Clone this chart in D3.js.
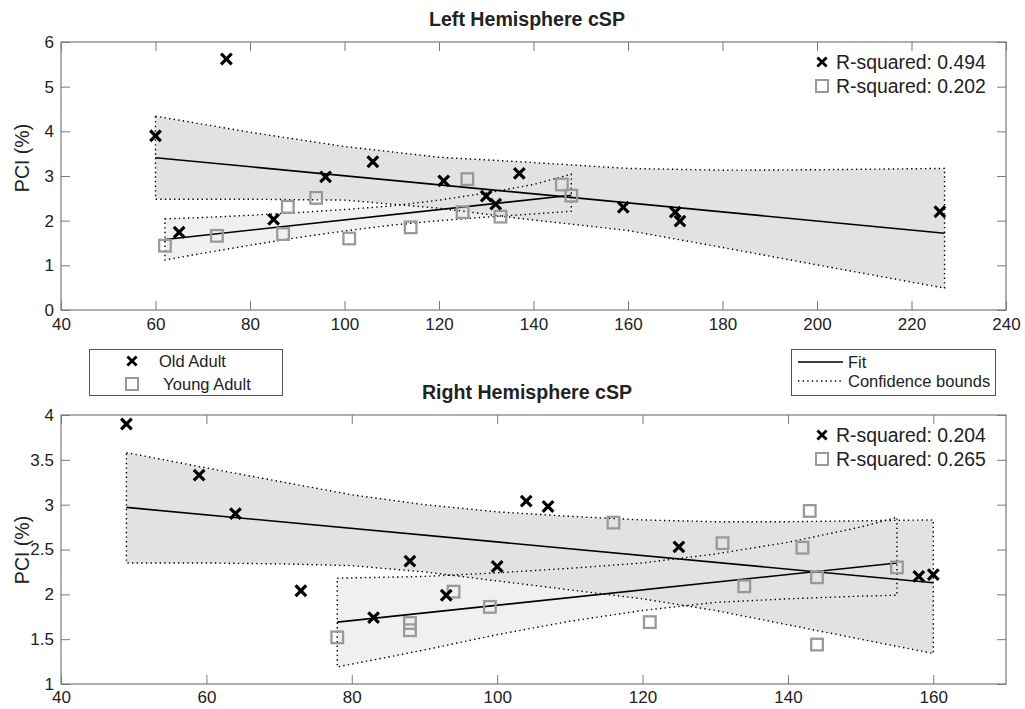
<!DOCTYPE html>
<html>
<head>
<meta charset="utf-8">
<script src="https://cdn.jsdelivr.net/npm/d3@7"></script>
<style>
  body { margin: 0; background: #fff; }
  svg text { font-family: "Liberation Sans", Arial, sans-serif; fill: #222; }
</style>
</head>
<body>
<svg id="vis" width="1025" height="709"></svg>
<script>
// ---- data ----
// Left hemisphere
var leftOldX   = [60, 65, 75, 85, 96, 106, 121, 130, 132, 137, 159, 170, 171, 226];
var leftOldY   = [3.90, 1.74, 5.62, 2.03, 2.98, 3.32, 2.89, 2.55, 2.37, 3.06, 2.30, 2.19, 1.99, 2.20];
var leftYoungX = [62, 73, 87, 88, 94, 101, 114, 125, 126, 133, 146, 148];
var leftYoungY = [1.44, 1.66, 1.70, 2.31, 2.51, 1.60, 1.85, 2.19, 2.93, 2.09, 2.81, 2.56];

var leftOldFitX   = [60, 227];
var leftOldFitY   = [3.41, 1.72];
var leftYoungFitX = [62, 148];
var leftYoungFitY = [1.58, 2.57];

var leftOldBandX  = [60, 80, 100, 120, 137, 160, 180, 200, 227];
var leftOldUpper  = [4.34, 3.98, 3.66, 3.42, 3.32, 3.17, 3.13, 3.14, 3.17];
var leftOldLower  = [2.48, 2.48, 2.46, 2.28, 2.05, 1.78, 1.40, 1.01, 0.49];
var leftYoungBandX = [62, 70, 80, 90, 100, 110, 120, 130, 140, 148];
var leftYoungUpper = [2.04, 2.07, 2.12, 2.18, 2.25, 2.33, 2.46, 2.62, 2.81, 3.04];
var leftYoungLower = [1.12, 1.27, 1.45, 1.62, 1.77, 1.90, 2.00, 2.08, 2.15, 2.21];

// Right hemisphere
var rightOldX   = [49, 59, 64, 73, 83, 88, 93, 100, 104, 107, 125, 158, 160];
var rightOldY   = [3.90, 3.33, 2.90, 2.04, 1.74, 2.37, 1.99, 2.31, 3.04, 2.98, 2.53, 2.20, 2.22];
var rightYoungX = [78, 88, 88, 94, 99, 116, 121, 131, 134, 142, 143, 144, 144, 155];
var rightYoungY = [1.52, 1.68, 1.60, 2.03, 1.86, 2.80, 1.69, 2.57, 2.09, 2.52, 2.93, 2.19, 1.44, 2.30];

var rightOldFitX   = [49, 160];
var rightOldFitY   = [2.97, 2.13];
var rightYoungFitX = [78, 155];
var rightYoungFitY = [1.69, 2.35];

var rightOldBandX  = [49, 60, 70, 80, 90, 100, 110, 120, 130, 140, 150, 160];
var rightOldUpper  = [3.58, 3.41, 3.26, 3.11, 3.00, 2.92, 2.87, 2.83, 2.81, 2.81, 2.82, 2.83];
var rightOldLower  = [2.35, 2.35, 2.34, 2.32, 2.25, 2.15, 2.05, 1.95, 1.82, 1.66, 1.50, 1.34];
var rightYoungBandX = [78, 90, 100, 110, 120, 130, 140, 150, 155];
var rightYoungUpper = [2.18, 2.20, 2.24, 2.29, 2.35, 2.45, 2.58, 2.75, 2.86];
var rightYoungLower = [1.19, 1.38, 1.55, 1.70, 1.82, 1.91, 1.95, 1.98, 1.99];

// axes / ticks
var leftXTicks  = [40, 60, 80, 100, 120, 140, 160, 180, 200, 220, 240];
var leftYTicks  = [0, 1, 2, 3, 4, 5, 6];
var rightXTicks = [40, 60, 80, 100, 120, 140, 160];
var rightYTicks = [1, 1.5, 2, 2.5, 3, 3.5, 4];

var leftRsq  = ["R-squared: 0.494", "R-squared: 0.202"];
var rightRsq = ["R-squared: 0.204", "R-squared: 0.265"];
var groups = ["Old Adult", " Young Adult"];
var lineKeys = ["Fit", "Confidence bounds"];

var svg = d3.select("#vis");
var axisGray = "#7a7a7a";

function zip(xs, ys) { return xs.map(function(x, i) { return {x: x, y: ys[i]}; }); }

function crossMark(g, size, sw) {
  g.append("path")
    .attr("d", "M" + (-size) + "," + (-size) + "L" + size + "," + size + "M" + size + "," + (-size) + "L" + (-size) + "," + size)
    .attr("stroke", "#000").attr("stroke-width", sw).attr("fill", "none");
}
function squareMark(g, size, sw) {
  g.append("rect").attr("x", -size).attr("y", -size).attr("width", 2 * size).attr("height", 2 * size)
    .attr("fill", "none").attr("stroke", "#999").attr("stroke-width", sw);
}

function drawPanel(p) {
  var x = d3.scaleLinear().domain(p.xDomain).range([61, 1006]);
  var y = d3.scaleLinear().domain(p.yDomain).range([p.bottom, p.top]);
  var g = svg.append("g");

  // bands: young (light) first, old (darker) on top
  var poly = d3.line().x(function(d) { return x(d.x); }).y(function(d) { return y(d.y); }).curve(d3.curveLinearClosed);
  function bandPts(bx, up, lo) {
    return zip(bx, up).concat(zip(bx, lo).reverse());
  }
  var youngPts = bandPts(p.youngBandX, p.youngUpper, p.youngLower);
  var oldPts = bandPts(p.oldBandX, p.oldUpper, p.oldLower);
  g.append("path").attr("d", poly(youngPts)).attr("fill", "#f0f0f0");
  g.append("path").attr("d", poly(oldPts)).attr("fill", "#e1e2e2");
  [youngPts, oldPts].forEach(function(pts) {
    g.append("path").attr("d", poly(pts)).attr("fill", "none")
      .attr("stroke", "#000").attr("stroke-width", 1.4).attr("stroke-dasharray", "1.4,3.2");
  });

  // fit lines
  var line = d3.line().x(function(d) { return x(d.x); }).y(function(d) { return y(d.y); });
  g.append("path").attr("d", line(zip(p.oldFitX, p.oldFitY))).attr("stroke", "#000").attr("stroke-width", 1.6).attr("fill", "none");
  g.append("path").attr("d", line(zip(p.youngFitX, p.youngFitY))).attr("stroke", "#000").attr("stroke-width", 1.6).attr("fill", "none");

  // markers
  g.selectAll("g.young").data(zip(p.youngX, p.youngY)).enter().append("g")
    .attr("class", "young")
    .attr("transform", function(d) { return "translate(" + x(d.x) + "," + y(d.y) + ")"; })
    .each(function() { squareMark(d3.select(this), 5.8, 2.3); });
  g.selectAll("g.old").data(zip(p.oldX, p.oldY)).enter().append("g")
    .attr("class", "old")
    .attr("transform", function(d) { return "translate(" + x(d.x) + "," + y(d.y) + ")"; })
    .each(function() { crossMark(d3.select(this), 5.3, 3.2); });

  // axes with inward ticks on all sides
  function styleAxis(a) {
    a.select(".domain").remove();
    a.selectAll(".tick line").attr("stroke", axisGray);
    a.selectAll(".tick text").attr("font-size", "17px").attr("fill", "#222");
  }
  var ax = g.append("g").attr("transform", "translate(0," + p.bottom + ")")
    .call(d3.axisBottom(x).tickValues(p.xTicks).tickFormat(d3.format("")).tickSizeInner(-9).tickSizeOuter(0).tickPadding(p.xPad));
  styleAxis(ax);
  var axTop = g.append("g").attr("transform", "translate(0," + p.top + ")")
    .call(d3.axisTop(x).tickValues(p.xTicks).tickFormat("").tickSizeInner(-9).tickSizeOuter(0));
  styleAxis(axTop);
  var ay = g.append("g").attr("transform", "translate(61,0)")
    .call(d3.axisLeft(y).tickValues(p.yTicks).tickFormat(d3.format("")).tickSizeInner(-9).tickSizeOuter(0).tickPadding(7));
  styleAxis(ay);
  var ayR = g.append("g").attr("transform", "translate(1006,0)")
    .call(d3.axisRight(y).tickValues(p.yTicks).tickFormat("").tickSizeInner(-9).tickSizeOuter(0));
  styleAxis(ayR);

  g.append("rect").attr("x", 61).attr("y", p.top).attr("width", 1006 - 61).attr("height", p.bottom - p.top)
    .attr("fill", "none").attr("stroke", axisGray).attr("stroke-width", 1.2);

  // y label and title
  g.append("text").attr("transform", "translate(29," + p.yLabelY + ") rotate(-90)")
    .attr("text-anchor", "middle").attr("font-size", "19.5px").text("PCI (%)");
  g.append("text").attr("x", 527).attr("y", p.titleY).attr("text-anchor", "middle")
    .attr("font-size", "19.6px").attr("font-weight", "bold").text(p.title);

  // R-squared legend in the axes
  var leg = g.append("g");
  p.rsq.forEach(function(t, i) {
    var row = leg.append("g").attr("transform", "translate(822," + (p.top + 20 + i * 24) + ")");
    if (i === 0) crossMark(row, 4.6, 2.8); else squareMark(row, 6, 2);
    row.append("text").attr("x", 14).attr("y", 7).attr("font-size", "19.4px").attr("fill", "#111").text(t);
  });
}

drawPanel({
  title: "Left Hemisphere cSP", titleY: 26, top: 42, bottom: 310, yLabelY: 158, xPad: 8,
  xDomain: [40, 240], yDomain: [0, 6], xTicks: leftXTicks, yTicks: leftYTicks,
  oldX: leftOldX, oldY: leftOldY, youngX: leftYoungX, youngY: leftYoungY,
  oldFitX: leftOldFitX, oldFitY: leftOldFitY, youngFitX: leftYoungFitX, youngFitY: leftYoungFitY,
  oldBandX: leftOldBandX, oldUpper: leftOldUpper, oldLower: leftOldLower,
  youngBandX: leftYoungBandX, youngUpper: leftYoungUpper, youngLower: leftYoungLower,
  rsq: leftRsq
});

drawPanel({
  title: "Right Hemisphere cSP", titleY: 399, top: 415, bottom: 684, yLabelY: 550, xPad: 7,
  xDomain: [40, 170], yDomain: [1, 4], xTicks: rightXTicks, yTicks: rightYTicks,
  oldX: rightOldX, oldY: rightOldY, youngX: rightYoungX, youngY: rightYoungY,
  oldFitX: rightOldFitX, oldFitY: rightOldFitY, youngFitX: rightYoungFitX, youngFitY: rightYoungFitY,
  oldBandX: rightOldBandX, oldUpper: rightOldUpper, oldLower: rightOldLower,
  youngBandX: rightYoungBandX, youngUpper: rightYoungUpper, youngLower: rightYoungLower,
  rsq: rightRsq
});

// group legend (bottom left)
var gl = svg.append("g");
gl.append("rect").attr("x", 89.5).attr("y", 349.5).attr("width", 193).attr("height", 46)
  .attr("fill", "#fff").attr("stroke", "#555").attr("stroke-width", 1);
groups.forEach(function(t, i) {
  var row = gl.append("g").attr("transform", "translate(132," + (361 + i * 23) + ")");
  if (i === 0) crossMark(row, 4.6, 2.8); else squareMark(row, 6, 2);
  row.append("text").attr("x", 27).attr("y", 5.5).attr("font-size", "16.5px")
    .style("white-space", "pre").text(t);
});

// line legend (bottom right)
var ll = svg.append("g");
ll.append("rect").attr("x", 791.5).attr("y", 349.5).attr("width", 204).attr("height", 46)
  .attr("fill", "#fff").attr("stroke", "#555").attr("stroke-width", 1);
lineKeys.forEach(function(t, i) {
  var yy = 362 + i * 19;
  ll.append("line").attr("x1", 798).attr("x2", 843).attr("y1", yy).attr("y2", yy)
    .attr("stroke", "#000").attr("stroke-width", i === 0 ? 1.5 : 1.4)
    .attr("stroke-dasharray", i === 0 ? null : "1.4,3.2");
  ll.append("text").attr("x", 848).attr("y", yy + 6).attr("font-size", "16.5px").text(t);
});
</script>
</body>
</html>
